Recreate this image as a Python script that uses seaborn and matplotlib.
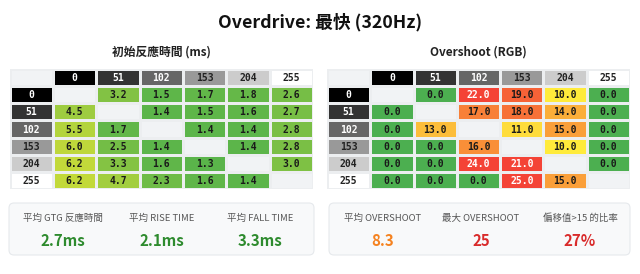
import numpy as np
import pandas as pd
import seaborn as sns
import matplotlib.pyplot as plt
from matplotlib.colors import ListedColormap, to_rgb, to_hex
from matplotlib.patches import FancyBboxPatch

levels = [0, 51, 102, 153, 204, 255]
level_colors = ["#000000", "#333333", "#666666", "#999999", "#cccccc", "#ffffff"]

# rows = from level, cols = to level, diagonal empty
response_ms = [
    [None, 3.2, 1.5, 1.7, 1.8, 2.6],
    [4.5, None, 1.4, 1.5, 1.6, 2.7],
    [5.5, 1.7, None, 1.4, 1.4, 2.8],
    [6.0, 2.5, 1.4, None, 1.4, 2.8],
    [6.2, 3.3, 1.6, 1.3, None, 3.0],
    [6.2, 4.7, 2.3, 1.6, 1.4, None],
]
overshoot = [
    [None, 0.0, 22.0, 19.0, 10.0, 0.0],
    [0.0, None, 17.0, 18.0, 14.0, 0.0],
    [0.0, 13.0, None, 11.0, 15.0, 0.0],
    [0.0, 0.0, 16.0, None, 10.0, 0.0],
    [0.0, 0.0, 24.0, 21.0, None, 0.0],
    [0.0, 0.0, 0.0, 25.0, 15.0, None],
]

left_stat_labels = ["平均 GTG 反應時間", "平均 RISE TIME", "平均 FALL TIME"]
left_stat_values = ["2.7ms", "2.1ms", "3.3ms"]
right_stat_labels = ["平均 OVERSHOOT", "最大 OVERSHOOT", "偏移值>15 的比率"]
right_stat_values = ["8.3", "25", "27%"]

EMPTY = "#f1f3f5"


def blend(c1, c2, t):
    t = min(max(t, 0.0), 1.0)
    a, b = np.array(to_rgb(c1)), np.array(to_rgb(c2))
    return to_hex(a + (b - a) * t)


def resp_color(v):
    return blend("#5ab44a", "#c2d93a", (v - 1.3) / (6.2 - 1.3))


def over_color(v):
    if v < 10:
        return "#4caf50"
    return blend("#ffeb3b", "#f44336", (v - 10) / 11)


def draw_table(ax, values, color_fn, white_text=lambda v: False):
    colors = [[EMPTY] + level_colors]
    labels = [[""] + [str(l) for l in levels]]
    for i, row in enumerate(values):
        colors.append([level_colors[i]] + [EMPTY if v is None else color_fn(v) for v in row])
        labels.append([str(levels[i])] + ["" if v is None else f"{v:.1f}" for v in row])
    palette = sorted(set(c for r in colors for c in r))
    codes = pd.DataFrame([[palette.index(c) for c in r] for r in colors])
    sns.heatmap(codes, cmap=ListedColormap(palette), vmin=-0.5, vmax=len(palette) - 0.5,
                cbar=False, linewidths=1.0, linecolor="#eceef0",
                xticklabels=False, yticklabels=False, ax=ax)
    for i in range(7):
        for j in range(7):
            txt = labels[i][j]
            if not txt:
                continue
            if i == 0 or j == 0:
                k = (j if i == 0 else i) - 1
                tc = "white" if k < 3 else "#222222"
            else:
                v = values[i - 1][j - 1]
                tc = "white" if white_text(v) else "#1a1a1a"
            ax.text(j + 0.5, i + 0.53, txt, ha="center", va="center", color=tc,
                    fontsize=7, fontweight="bold", family="DejaVu Sans Mono")


sns.set_theme(style="white")
plt.rcParams["font.family"] = ["Noto Sans CJK TC", "DejaVu Sans"]

W, H = 640, 274
fig = plt.figure(figsize=(W / 100, H / 100), dpi=100)


def fx(px):
    return px / W


def fy(py):
    return 1 - py / H


fig.text(0.5, fy(22), "Overdrive: 最快 (320Hz)", ha="center", va="center",
         fontsize=12.8, fontweight="bold", color="#111111")
fig.text(fx(161), fy(52), "初始反應時間 (ms)", ha="center", va="center",
         fontsize=8.5, fontweight="bold", color="#222222")
fig.text(fx(478), fy(52), "Overshoot (RGB)", ha="center", va="center",
         fontsize=8.5, fontweight="bold", color="#222222")

ax_l = fig.add_axes([fx(9.5), fy(189), fx(313 - 9.5), 120 / H])
draw_table(ax_l, response_ms, resp_color)
ax_r = fig.add_axes([fx(327), fy(189), fx(630 - 327), 120 / H])
draw_table(ax_r, overshoot, over_color, white_text=lambda v: v >= 20)

# stat cards (inch coordinates)
for x0, x1 in [(9, 314), (329, 630)]:
    card = FancyBboxPatch((x0 / 100, (H - 255) / 100), (x1 - x0) / 100, 52 / 100,
                          boxstyle="round,pad=0,rounding_size=0.05",
                          transform=fig.dpi_scale_trans, facecolor="#f8f9fa",
                          edgecolor="#e6e9ec", linewidth=0.8)
    fig.patches.append(card)

left_x = [63, 162, 260]
right_x = [383, 481, 580]
left_colors = ["#2e8b2e", "#2e8b2e", "#2e8b2e"]
right_colors = ["#f5821f", "#d92b2b", "#d92b2b"]
for xs, labs, vals, cols in [(left_x, left_stat_labels, left_stat_values, left_colors),
                             (right_x, right_stat_labels, right_stat_values, right_colors)]:
    for x, lab, val, c in zip(xs, labs, vals, cols):
        fig.text(fx(x), fy(218), lab, ha="center", va="center", fontsize=6.8,
                 fontweight="medium", color="#555555")
        fig.text(fx(x), fy(241), val, ha="center", va="center", fontsize=10.8,
                 fontweight="bold", color=c)

fig.savefig("out.png", dpi=100, facecolor="white")
